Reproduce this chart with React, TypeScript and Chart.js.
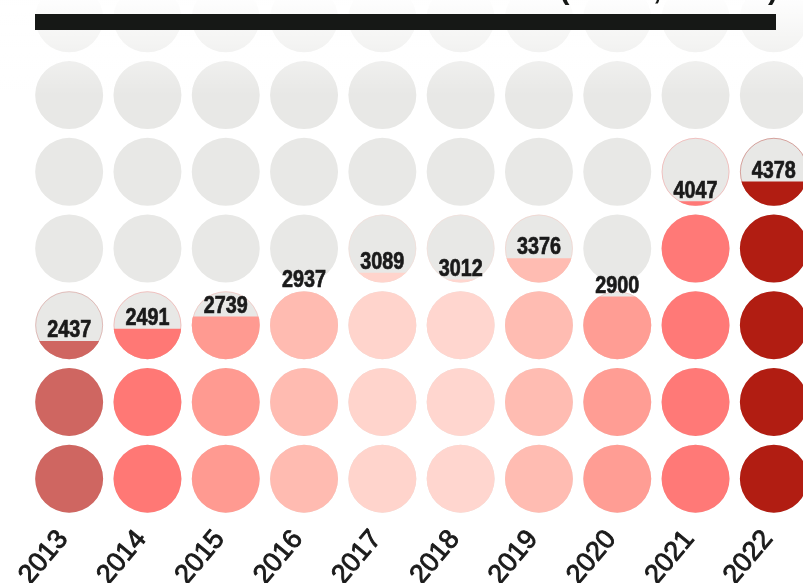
import React, { useEffect, useRef } from 'react';
import { Chart, registerables } from 'chart.js';

Chart.register(...registerables);

// ---- data ----
const years = ['2013', '2014', '2015', '2016', '2017', '2018', '2019', '2020', '2021', '2022'];
const totals = [2437, 2491, 2739, 2937, 3089, 3012, 3376, 2900, 4047, 4378];
// filled height of each column, in circle rows
const filledRows = [2.29, 2.45, 2.61, 2.94, 3.18, 3.09, 3.37, 2.87, 4.11, 4.37];
const colors = ['#cf6661', '#ff7875', '#ff9a91', '#ffbbb1', '#ffd4cc', '#ffd6cf', '#ffbcb2', '#ff9d94', '#ff7977', '#b11d12'];
const rowCount = 7;
const titleText = '(cases, in total)';

const CANVAS_W = 813;
const CANVAS_H = 627;
const CANVAS_TOP = -40;
const SANS = "'Liberation Sans', Arial, sans-serif";

const circlePlugin = {
  id: 'circleGrid',
  beforeDatasetsDraw(chart: any) {
    const { ctx, scales } = chart;
    const x = scales.x;
    const y = scales.y;
    const py = y.getPixelForValue(0) - y.getPixelForValue(1);
    const r = py * 0.443;
    ctx.save();
    ctx.beginPath();
    for (let i = 0; i < years.length; i++) {
      for (let k = 0; k < rowCount; k++) {
        const cx = x.getPixelForValue(i);
        const cy = y.getPixelForValue(k + 0.5);
        ctx.moveTo(cx + r, cy);
        ctx.arc(cx, cy, r, 0, Math.PI * 2);
      }
    }
    ctx.fillStyle = '#e8e8e6';
    ctx.fill();
    ctx.clip();
  },
  afterDatasetsDraw(chart: any) {
    const { ctx, scales } = chart;
    ctx.restore();
    const x = scales.x;
    const y = scales.y;
    const py = y.getPixelForValue(0) - y.getPixelForValue(1);
    const r = py * 0.443;
    // faint coloured rim on partly filled circles
    ctx.save();
    for (let i = 0; i < years.length; i++) {
      const k = Math.floor(filledRows[i]);
      const cx = x.getPixelForValue(i);
      const cy = y.getPixelForValue(k + 0.5);
      ctx.beginPath();
      ctx.arc(cx, cy, r - 0.5, 0, Math.PI * 2);
      ctx.strokeStyle = colors[i];
      ctx.globalAlpha = 0.35;
      ctx.lineWidth = 1;
      ctx.stroke();
    }
    ctx.restore();
    // white fade at the top
    ctx.save();
    const g = ctx.createLinearGradient(0, -CANVAS_TOP, 0, -CANVAS_TOP + 95);
    g.addColorStop(0, 'rgba(255,255,255,0.95)');
    g.addColorStop(1, 'rgba(255,255,255,0)');
    ctx.fillStyle = g;
    ctx.fillRect(0, 0, chart.width, -CANVAS_TOP + 95);
    ctx.restore();
    // value labels (condensed bold)
    ctx.font = `bold 23px ${SANS}`;
    ctx.fillStyle = '#1a1a1a';
    ctx.strokeStyle = '#1a1a1a';
    ctx.lineWidth = 0.7;
    ctx.textAlign = 'center';
    ctx.textBaseline = 'alphabetic';
    for (let i = 0; i < years.length; i++) {
      const cx = x.getPixelForValue(i);
      const top = y.getPixelForValue(filledRows[i]);
      ctx.save();
      ctx.translate(cx, top - 4);
      ctx.scale(0.86, 1);
      ctx.fillText(String(totals[i]), 0, 0);
      ctx.strokeText(String(totals[i]), 0, 0);
      ctx.restore();
    }
  },
  afterDraw(chart: any) {
    const { ctx } = chart;
    ctx.save();
    ctx.font = `bold 30px ${SANS}`;
    ctx.fillStyle = '#161816';
    ctx.textAlign = 'right';
    ctx.textBaseline = 'alphabetic';
    ctx.fillText(titleText, 778, -CANVAS_TOP - 1);
    ctx.fillRect(35, -CANVAS_TOP + 14, 741, 16);
    ctx.restore();
  },
};

export default function App() {
  const ref = useRef<HTMLCanvasElement>(null);
  useEffect(() => {
    document.body.style.margin = '0';
    const canvas = ref.current;
    if (!canvas) return;
    const chart = new Chart(canvas, {
      type: 'bar',
      data: {
        labels: years,
        datasets: [
          {
            data: filledRows,
            backgroundColor: colors,
            borderWidth: 0,
            barPercentage: 1,
            categoryPercentage: 1,
          },
        ],
      },
      options: {
        responsive: false,
        animation: false,
        devicePixelRatio: 1,
        layout: { padding: { top: 20, left: 30, right: 0, bottom: 0 } },
        plugins: {
          legend: { display: false },
          tooltip: { enabled: false },
          title: { display: false },
        },
        scales: {
          x: {
            grid: { display: false, drawTicks: false },
            border: { display: false },
            ticks: {
              color: '#1a1a1a',
              font: { family: SANS, size: 27 },
              textStrokeColor: '#1a1a1a',
              textStrokeWidth: 0.9,
              minRotation: 50,
              maxRotation: 50,
              padding: 7,
              labelOffset: -6,
              autoSkip: false,
            },
            afterFit: (s: any) => {
              s.height = 70;
            },
          },
          y: { display: false, min: 0, max: rowCount },
        },
      },
      plugins: [circlePlugin],
    });
    return () => chart.destroy();
  }, []);
  return (
    <div style={{ position: 'relative', width: 803, height: 583, overflow: 'hidden', background: '#fff' }}>
      <canvas
        ref={ref}
        width={CANVAS_W}
        height={CANVAS_H}
        style={{ position: 'absolute', left: 0, top: CANVAS_TOP, width: CANVAS_W, height: CANVAS_H }}
      />
    </div>
  );
}
